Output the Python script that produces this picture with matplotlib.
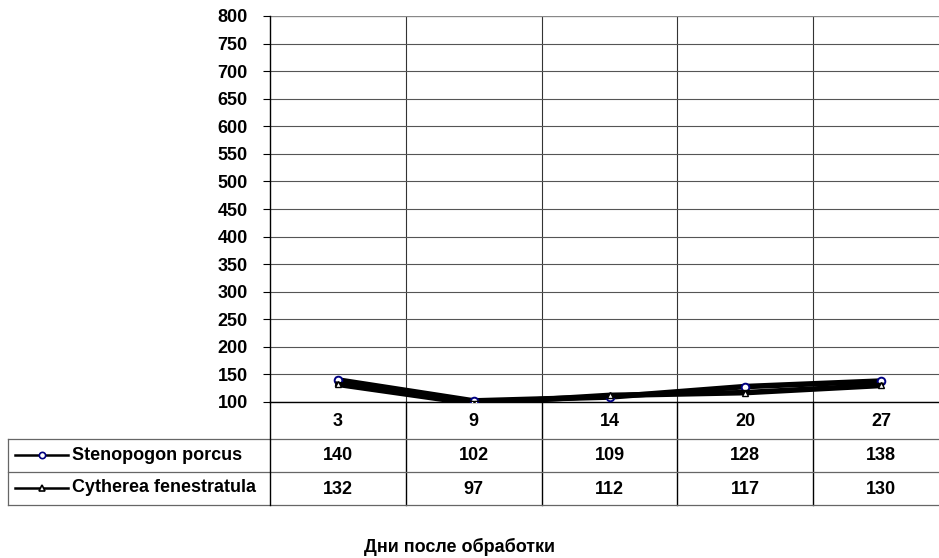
import matplotlib
matplotlib.use('Agg')
import matplotlib.pyplot as plt
from matplotlib.lines import Line2D
from matplotlib.transforms import blended_transform_factory

days = ['3', '9', '14', '20', '27']
stenopogon = [140, 102, 109, 128, 138]
cytherea = [132, 97, 112, 117, 130]
series_names = ['Stenopogon porcus', 'Cytherea fenestratula']
y_ticks = list(range(100, 801, 50))

plt.rcParams['font.family'] = ['Liberation Sans', 'DejaVu Sans']
plt.rcParams['font.weight'] = 'bold'
FS = 13

W, H = 939, 558
fig = plt.figure(figsize=(W / 100, H / 100), dpi=100)

def fx(px):
    return px / W

def fy(py):
    return 1 - py / H

# plot area runs a bit past the right edge, like the original
ax = fig.add_axes([fx(270), fy(402), fx(949) - fx(270), fy(16) - fy(402)])

x = list(range(len(days)))
ax.plot(x, stenopogon, color='black', lw=4, marker='o', ms=5.5,
        mfc='white', mec='#000080', mew=1.4, zorder=3)
ax.plot(x, cytherea, color='black', lw=4, marker='^', ms=4.5,
        mfc='white', mec='black', mew=1.0, zorder=3)

ax.set_xlim(-0.5, len(days) - 0.5)
ax.set_ylim(100, 800)
ax.set_yticks(y_ticks)
ax.set_yticklabels([str(v) for v in y_ticks], fontsize=FS, fontweight='bold')
ax.set_xticks([])
ax.set_xticks([i + 0.5 for i in range(len(days) - 1)], minor=True)
ax.tick_params(axis='x', which='minor', length=0)
ax.tick_params(axis='y', direction='out', length=5, width=0.8, pad=11)
ax.grid(axis='y', color='#555555', lw=0.8)
ax.grid(axis='x', which='minor', color='#333333', lw=0.8)
ax.set_axisbelow(True)
for s in ['top', 'right']:
    ax.spines[s].set_visible(False)
ax.spines['left'].set_linewidth(1.0)
ax.spines['bottom'].set_linewidth(1.0)
ax.axhline(800, color='#888888', lw=1.6, zorder=1)

# data table under the plot
tr = blended_transform_factory(ax.transData, fig.transFigure)
rows_y = [439, 472, 505]
for py in rows_y:
    fig.add_artist(Line2D([fx(8), 1], [fy(py), fy(py)], color='#666666', lw=0.9))
fig.add_artist(Line2D([fx(8), fx(8)], [fy(439), fy(505)], color='#666666', lw=0.9))
fig.add_artist(Line2D([fx(270), fx(270)], [fy(402), fy(505)], color='black', lw=1.0))
for i in range(len(days) - 1):
    ax.plot([i + 0.5, i + 0.5], [fy(402), fy(505)], color='black', lw=1.0,
            transform=tr, clip_on=False)

for i, d in enumerate(days):
    ax.text(i, fy(421), d, transform=tr, ha='center', va='center',
            fontsize=FS, fontweight='bold')
    ax.text(i, fy(456), str(stenopogon[i]), transform=tr, ha='center',
            va='center', fontsize=FS, fontweight='bold')
    ax.text(i, fy(489), str(cytherea[i]), transform=tr, ha='center',
            va='center', fontsize=FS, fontweight='bold')

# legend keys inside the table
markers = [('o', '#000080', 4.5), ('^', 'black', 4)]
for name, cy, (m, mec, ms) in zip(series_names, [455, 488], markers):
    fig.add_artist(Line2D([fx(15), fx(42), fx(68)], [fy(cy)] * 3, color='black',
                          lw=1.8, marker=m, markevery=[1], ms=ms, mfc='white',
                          mec=mec, mew=1.2, transform=fig.transFigure))
    fig.text(fx(72), fy(cy), name, ha='left', va='center', fontsize=FS,
             fontweight='bold')

fig.text(fx(460), fy(547), 'Дни после обработки', ha='center', va='center',
         fontsize=FS, fontweight='bold')

fig.savefig('out.png', dpi=100)
